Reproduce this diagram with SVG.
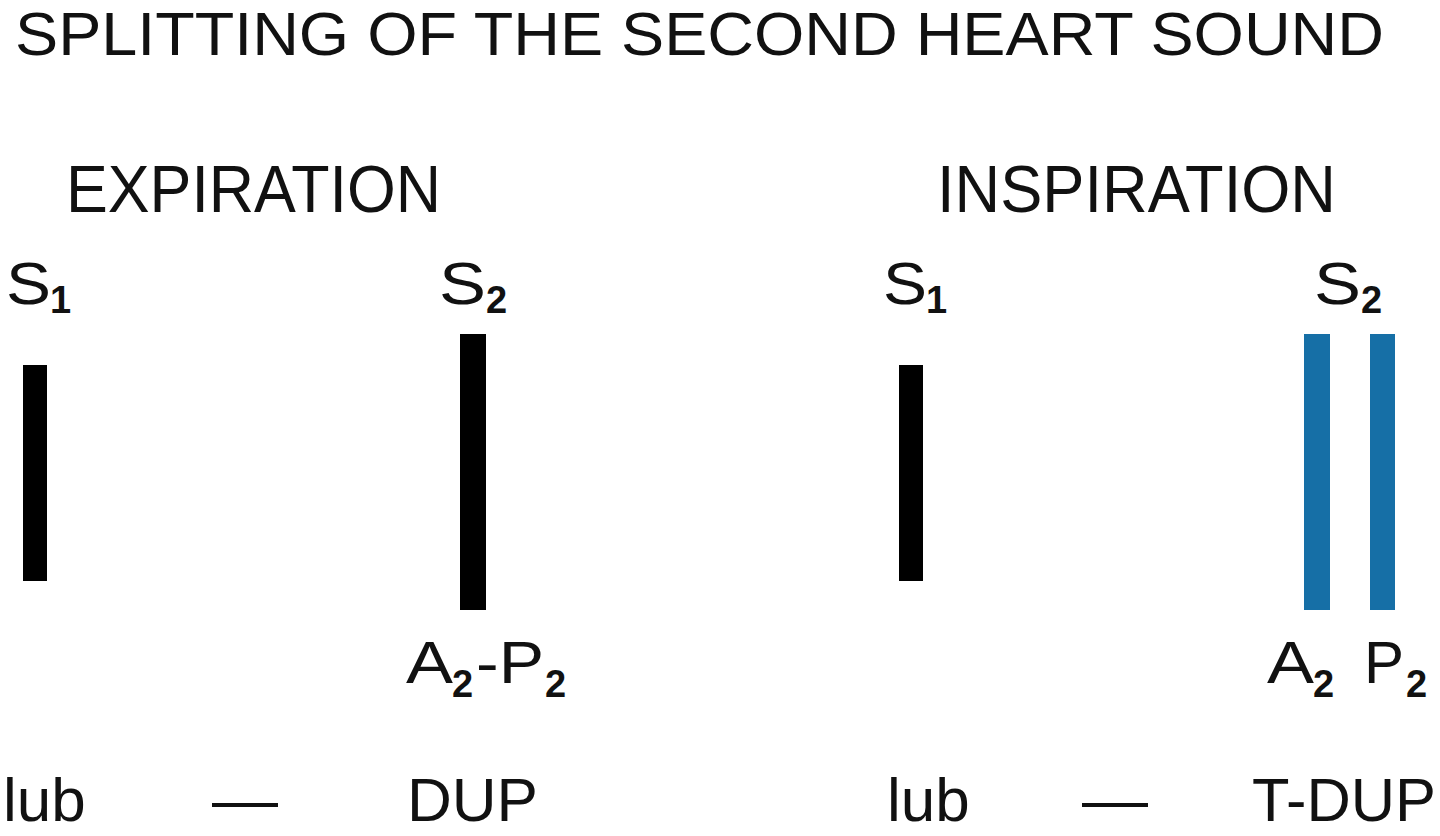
<svg xmlns="http://www.w3.org/2000/svg" width="1440" height="836" viewBox="0 0 1440 836">
<style>
text{font-family:"Liberation Sans",Arial,Helvetica,sans-serif;fill:#111}
.t{font-size:61px}
.h{font-size:66px}
.s{font-size:59px}
.sub{font-size:38px;font-weight:bold}
.w{font-size:62px}
.bk{fill:#000}
.bl{fill:#166fa6}
</style>
<rect width="1440" height="836" fill="#fff"/>
<text class="t" x="15" y="55" textLength="1369" lengthAdjust="spacingAndGlyphs">SPLITTING OF THE SECOND HEART SOUND</text>
<g id="expiration">
<text class="h" x="66" y="212" textLength="375" lengthAdjust="spacingAndGlyphs">EXPIRATION</text>
<g id="exp-s1">
<text class="s" x="6" y="304" textLength="45" lengthAdjust="spacingAndGlyphs">S</text><text class="sub" x="50" y="313">1</text>
<rect class="bk" x="23" y="365" width="24" height="216"/>
</g>
<g id="exp-s2">
<text class="s" x="439" y="304" textLength="47" lengthAdjust="spacingAndGlyphs">S</text><text class="sub" x="486" y="313">2</text>
<rect class="bk" x="460" y="334" width="26" height="276"/>
<text class="s" x="406" y="683" textLength="47" lengthAdjust="spacingAndGlyphs">A</text><text class="sub" x="452" y="697">2</text>
<text class="s" x="476" y="683" textLength="68" lengthAdjust="spacingAndGlyphs">-P</text><text class="sub" x="545" y="697">2</text>
</g>
<text class="w" x="3" y="821">lub</text>
<text class="w" x="212" y="821" textLength="66" lengthAdjust="spacingAndGlyphs">—</text>
<text class="w" x="407" y="821" textLength="131" lengthAdjust="spacingAndGlyphs">DUP</text>
</g>
<g id="inspiration">
<text class="h" x="937" y="212" textLength="399" lengthAdjust="spacingAndGlyphs">INSPIRATION</text>
<g id="insp-s1">
<text class="s" x="883" y="304" textLength="44" lengthAdjust="spacingAndGlyphs">S</text><text class="sub" x="926" y="313">1</text>
<rect class="bk" x="899" y="365" width="24" height="216"/>
</g>
<g id="insp-s2">
<text class="s" x="1314" y="304" textLength="47" lengthAdjust="spacingAndGlyphs">S</text><text class="sub" x="1361" y="313">2</text>
<rect class="bl" x="1304" y="334" width="26" height="276"/>
<rect class="bl" x="1370" y="334" width="25" height="276"/>
<text class="s" x="1267" y="683" textLength="47" lengthAdjust="spacingAndGlyphs">A</text><text class="sub" x="1313" y="697">2</text>
<text class="s" x="1364" y="683" textLength="40" lengthAdjust="spacingAndGlyphs">P</text><text class="sub" x="1406" y="697">2</text>
</g>
<text class="w" x="887" y="821">lub</text>
<text class="w" x="1082" y="821" textLength="66" lengthAdjust="spacingAndGlyphs">—</text>
<text class="w" x="1252" y="821" textLength="184" lengthAdjust="spacingAndGlyphs">T-DUP</text>
</g>
</svg>
